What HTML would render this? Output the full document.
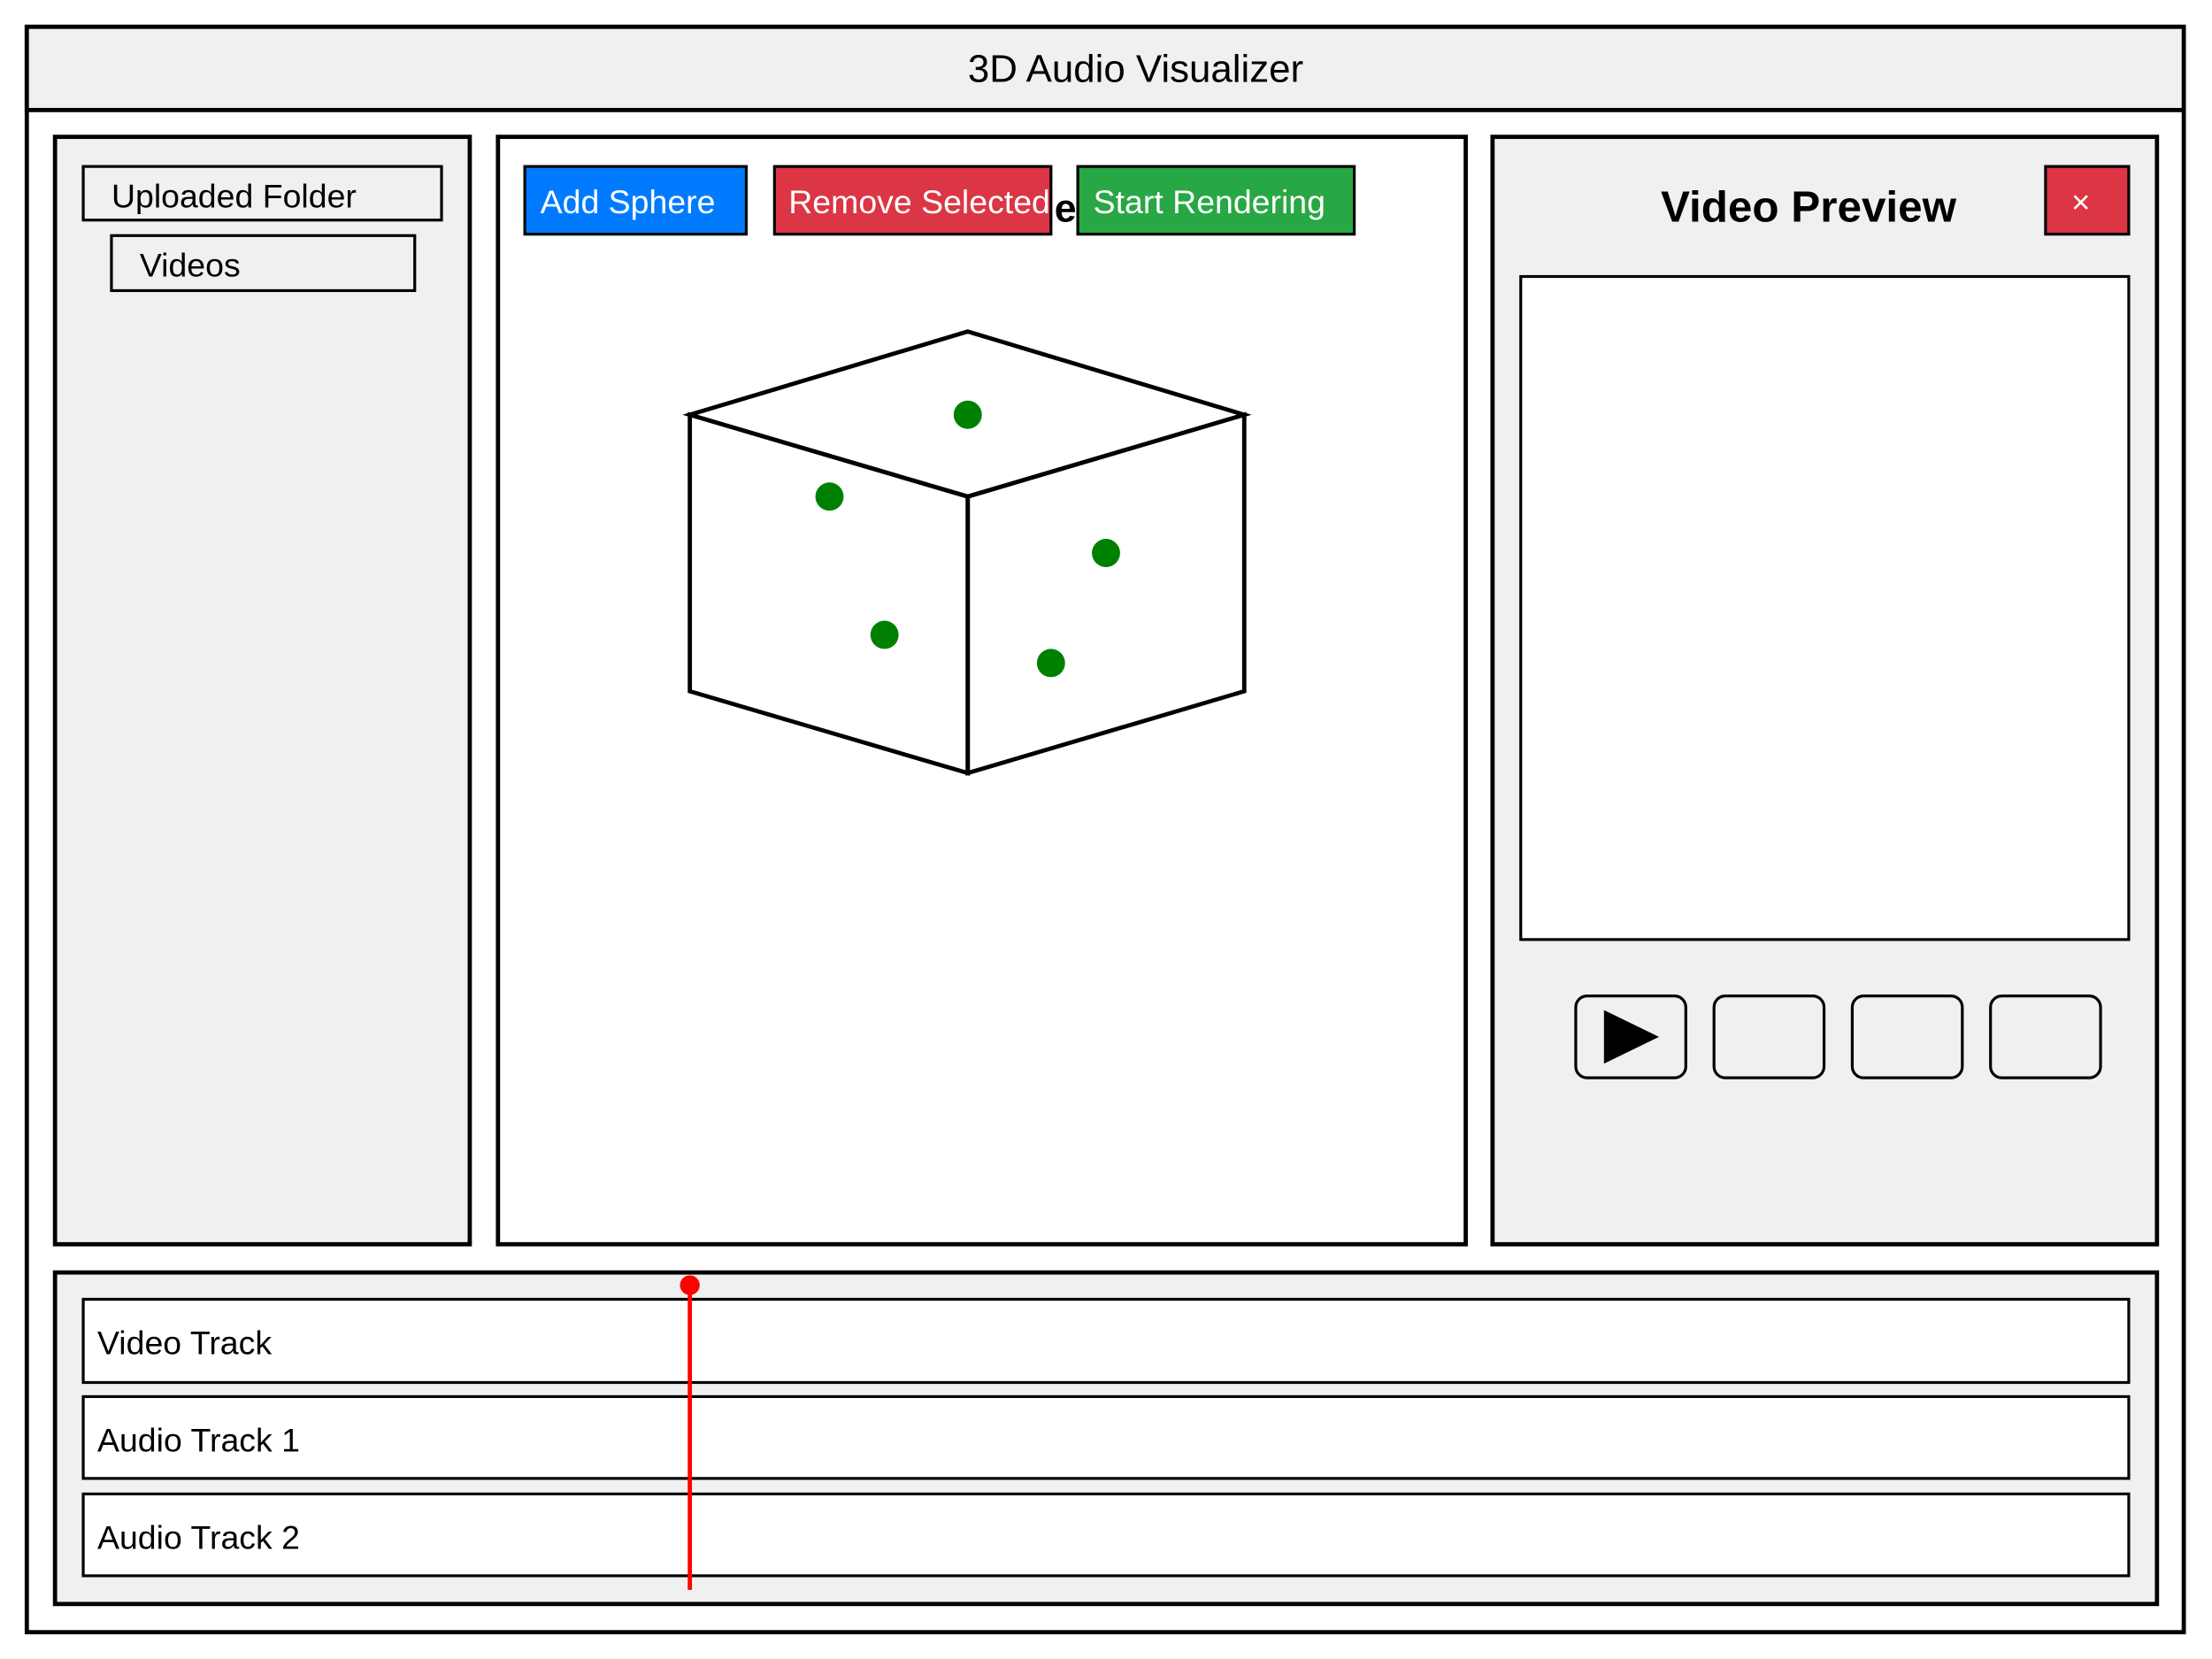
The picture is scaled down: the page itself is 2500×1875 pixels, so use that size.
<!DOCTYPE html>
<html><head><meta charset="utf-8"><style>
html,body{margin:0;padding:0;background:#fff;}
svg{display:block;font-family:"Liberation Sans",Arial,sans-serif;}
</style></head><body>
<svg id="ui" width="2500" height="1875" viewBox="0 0 1568 1176" xmlns="http://www.w3.org/2000/svg">
<rect x="19" y="19" width="1529" height="1138" fill="#fff" stroke="#000" stroke-width="3"/>
<rect x="19" y="19" width="1529" height="59" fill="#f0f0f0" stroke="#000" stroke-width="3"/>
<text x="805" y="58" font-size="27.5" text-anchor="middle">3D Audio Visualizer</text>

<rect x="39" y="97" width="294" height="785" fill="#f0f0f0" stroke="#000" stroke-width="3"/>
<rect x="59" y="118" width="254" height="38" fill="#f0f0f0" stroke="#000" stroke-width="2"/>
<text x="79" y="147" font-size="23.5">Uploaded Folder</text>
<rect x="79" y="167" width="215" height="39" fill="#f0f0f0" stroke="#000" stroke-width="2"/>
<text x="99" y="196" font-size="23.5">Videos</text>

<rect x="353" y="97" width="686" height="785" fill="#fff" stroke="#000" stroke-width="3"/>
<text x="763" y="157" font-size="28" font-weight="bold" text-anchor="end">3D Scene</text>
<rect x="372" y="118" width="157" height="48" fill="#007bff" stroke="#000" stroke-width="2"/>
<text x="383" y="151" font-size="23.5" fill="#fff">Add Sphere</text>
<rect x="549" y="118" width="196" height="48" fill="#dc3545" stroke="#000" stroke-width="2"/>
<text x="559" y="151" font-size="23.5" fill="#fff">Remove Selected</text>
<rect x="764" y="118" width="196" height="48" fill="#28a745" stroke="#000" stroke-width="2"/>
<text x="775" y="151" font-size="23.5" fill="#fff">Start Rendering</text>

<g fill="none" stroke="#000" stroke-width="3" stroke-linejoin="miter">
<polygon points="686,235 882,294 686,352 489,294"/>
<polygon points="489,294 686,352 686,548 489,490"/>
<polygon points="686,352 882,294 882,490 686,548"/>
</g>
<g id="spheres"></g>

<rect x="1058" y="97" width="471" height="785" fill="#f0f0f0" stroke="#000" stroke-width="3"/>
<text x="1282" y="157" font-size="31" font-weight="bold" text-anchor="middle">Video Preview</text>
<rect x="1450" y="118" width="59" height="48" fill="#dc3545" stroke="#000" stroke-width="2"/>
<text x="1475" y="151" font-size="23" fill="#fff" text-anchor="middle">×</text>
<rect x="1078" y="196" width="431" height="470" fill="#fff" stroke="#000" stroke-width="2"/>
<rect x="1117" y="706" width="78" height="58" rx="8" fill="none" stroke="#000" stroke-width="2"/>
<polygon points="1137,716 1176,735 1137,754" fill="#000"/>
<rect x="1215" y="706" width="78" height="58" rx="8" fill="none" stroke="#000" stroke-width="2"/>
<rect x="1313" y="706" width="78" height="58" rx="8" fill="none" stroke="#000" stroke-width="2"/>
<rect x="1411" y="706" width="78" height="58" rx="8" fill="none" stroke="#000" stroke-width="2"/>

<rect x="39" y="902" width="1490" height="235" fill="#f0f0f0" stroke="#000" stroke-width="3"/>
<rect x="59" y="921" width="1450" height="59" fill="#fff" stroke="#000" stroke-width="2"/>
<text x="69" y="960" font-size="23.5">Video Track</text>
<rect x="59" y="990" width="1450" height="58" fill="#fff" stroke="#000" stroke-width="2"/>
<text x="69" y="1029" font-size="23.5">Audio Track 1</text>
<rect x="59" y="1059" width="1450" height="58" fill="#fff" stroke="#000" stroke-width="2"/>
<text x="69" y="1098" font-size="23.5">Audio Track 2</text>
<line x1="489" y1="911" x2="489" y2="1127" stroke="#ff0000" stroke-width="3"/>
<circle cx="489" cy="911" r="7" fill="#ff0000"/>
</svg>
<script>
const sphereX = [686, 588, 784, 627, 745];
const sphereY = [294, 352, 392, 450, 470];
const sphereIds = ['sphere-1','sphere-2','sphere-3','sphere-4','sphere-5'];
const g = document.getElementById('spheres');
for (let i = 0; i < sphereX.length; i++) {
  const c = document.createElementNS('http://www.w3.org/2000/svg','circle');
  c.setAttribute('cx', sphereX[i]);
  c.setAttribute('cy', sphereY[i]);
  c.setAttribute('r', 10);
  c.setAttribute('fill', '#008000');
  
  
  g.appendChild(c);
}
</script>
</body></html>
